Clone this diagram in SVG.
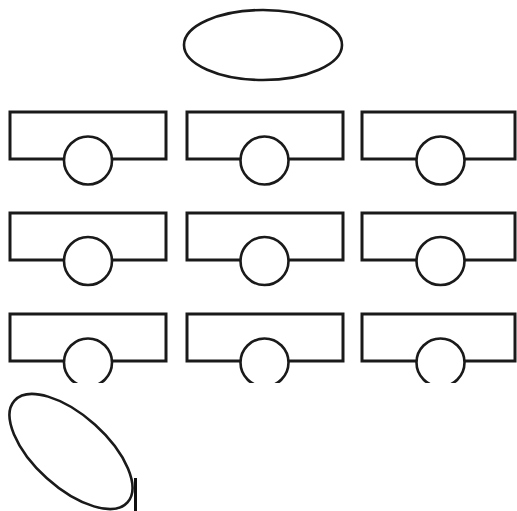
<svg xmlns="http://www.w3.org/2000/svg" width="517" height="511" viewBox="0 0 517 511">
  <style>
    .box { fill: #fff; stroke: #1a1a1a; stroke-width: 3; }
    .port { fill: #fff; stroke: #1a1a1a; stroke-width: 2.6; }
    .oval { fill: #fff; stroke: #1a1a1a; stroke-width: 2.6; }
  </style>
  <defs>
    <clipPath id="cut"><rect x="0" y="0" width="517" height="383"/></clipPath>
  </defs>
  <rect width="517" height="511" fill="#fff"/>
  <g id="top-ellipse"><ellipse class="oval" cx="263" cy="45" rx="79" ry="35"/></g>

  <g id="n1"><rect class="box" x="10" y="112" width="156" height="47"/><circle class="port" cx="88" cy="160.5" r="24"/></g>
  <g id="n2"><rect class="box" x="187" y="112" width="156" height="47"/><circle class="port" cx="264.5" cy="160.5" r="24"/></g>
  <g id="n3"><rect class="box" x="362" y="112" width="153" height="47"/><circle class="port" cx="440.5" cy="160.5" r="24"/></g>

  <g id="n4"><rect class="box" x="10" y="213" width="156" height="47"/><circle class="port" cx="88" cy="261" r="24"/></g>
  <g id="n5"><rect class="box" x="187" y="213" width="156" height="47"/><circle class="port" cx="264.5" cy="261" r="24"/></g>
  <g id="n6"><rect class="box" x="362" y="213" width="153" height="47"/><circle class="port" cx="440.5" cy="261" r="24"/></g>

  <g clip-path="url(#cut)">
    <g id="n7"><rect class="box" x="10" y="314" width="156" height="47"/><circle class="port" cx="88" cy="362.5" r="24"/></g>
    <g id="n8"><rect class="box" x="187" y="314" width="156" height="47"/><circle class="port" cx="264.5" cy="362.5" r="24"/></g>
    <g id="n9"><rect class="box" x="362" y="314" width="153" height="47"/><circle class="port" cx="440.5" cy="362.5" r="24"/></g>
  </g>

  <g id="tilted-ellipse"><ellipse class="oval" cx="71" cy="451.5" rx="76" ry="36" transform="rotate(42 71 451.5)"/></g>
  <g id="connectors">
    <line x1="135.5" y1="478" x2="135.5" y2="511" stroke="#111" stroke-width="3"/>
  </g>
</svg>
